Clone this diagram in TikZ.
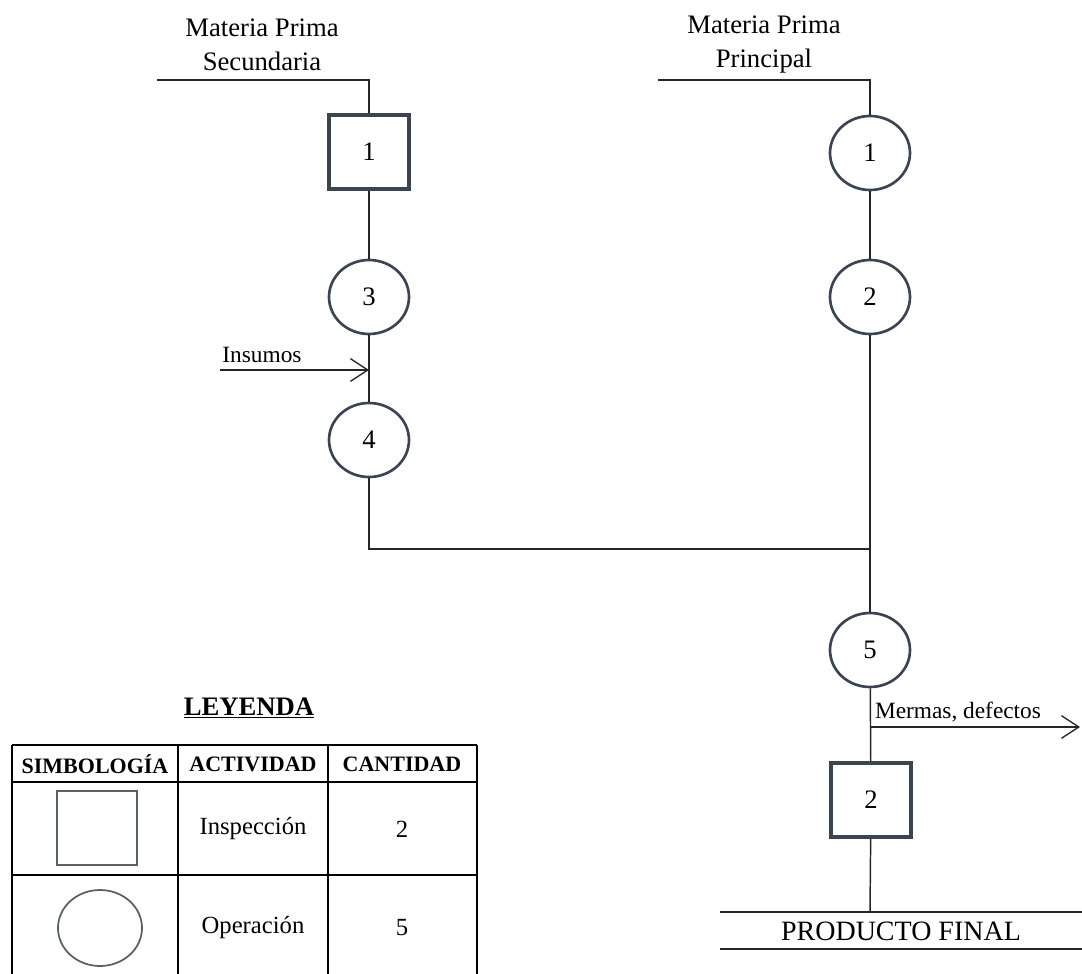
\documentclass[tikz,border=0pt]{standalone}
\usepackage{fontspec}
\setmainfont{Liberation Serif}
\usetikzlibrary{shapes.geometric,arrows.meta}
\definecolor{shapeline}{HTML}{3A4452}
\definecolor{legendline}{HTML}{5A5F66}
\begin{document}
\begin{tikzpicture}[x=0.75pt,y=-0.75pt,
  conn/.style={line width=1.1pt,draw=black!85},
  opnode/.style={ellipse,draw=shapeline,line width=2pt,minimum width=60pt,minimum height=55.5pt,inner sep=0pt,font=\fontsize{20}{24}\selectfont},
  inspnode/.style={rectangle,draw=shapeline,line width=2.6pt,minimum width=60pt,minimum height=55.5pt,inner sep=0pt,font=\fontsize{20}{24}\selectfont},
  bigtext/.style={font=\fontsize{20}{25.5}\selectfont,align=center,inner sep=0pt},
  smalltext/.style={font=\fontsize{17.5}{21}\selectfont,inner sep=0pt},
  flowarrow/.style={conn,-{Straight Barb[length=13pt,width=17pt,line width=1pt]}},
  tabline/.style={line width=1.4pt,draw=black},
  headtext/.style={font=\fontsize{16.5}{20}\selectfont\bfseries,inner sep=0pt},
  celltext/.style={font=\fontsize{18.5}{22}\selectfont,inner sep=0pt}]
\useasboundingbox (0,0) rectangle (1082,974);
\clip (0,0) rectangle (1082,974);

% input labels
\node[bigtext] (lblSec) at (262,45) {Materia Prima\\Secundaria};
\node[bigtext] (lblPri) at (764,45) {Materia Prima\\Principal};

% secondary raw material branch
\coordinate (secIn) at (157,80);
\node[inspnode] (i1) at (369,152) {1};
\node[opnode] (o3) at (369,297) {3};
\node[opnode] (o4) at (369,440) {4};
\coordinate (insIn) at (220,370);
\coordinate (insTip) at (369,370);
\coordinate (joinPt) at (870,549);

% main raw material branch
\coordinate (priIn) at (658,80);
\node[opnode] (o1) at (870,153) {1};
\node[opnode] (o2) at (870,297) {2};
\node[opnode] (o5) at (870,650) {5};
\node[inspnode] (i2) at (871,800) {2};
\coordinate (merOut) at (870,727);
\coordinate (merTip) at (1080,727);
\coordinate (pfTop) at (870,912);

% connectors
\draw[conn] (secIn) -| (i1);
\draw[conn] (i1) -- (o3);
\draw[conn] (o3) -- (o4);
\draw[conn] (o4) |- (joinPt);
\draw[conn] (priIn) -| (o1);
\draw[conn] (o1) -- (o2);
\draw[conn] (o2) -- (o5);
\draw[conn] (o5) -- (i2);
\draw[conn] (i2) -- (pfTop);
\draw[flowarrow] (insIn) -- (insTip);
\draw[flowarrow] (merOut) -- (merTip);
\node[smalltext] (lblIns) at (262,355) {Insumos};
\node[smalltext] (lblMer) at (958,712) {Mermas, defectos};

% final product
\coordinate (pfL1) at (720,912);
\coordinate (pfR1) at (1082,912);
\coordinate (pfL2) at (720,949);
\coordinate (pfR2) at (1082,949);
\draw[conn] (pfL1) -- (pfR1);
\draw[conn] (pfL2) -- (pfR2);
\node[font=\fontsize{21}{25}\selectfont,inner sep=0pt] (lblPF) at (901,931) {PRODUCTO FINAL};

% legend
\node[font=\fontsize{20}{24}\selectfont\bfseries,inner sep=0pt] (legTitle) at (249,708) {\underline{LEYENDA}};
\draw[tabline] (12,745) -- (477,745);
\draw[tabline] (12,782) -- (477,782);
\draw[tabline] (12,875) -- (477,875);
\foreach \xx in {12,178,328,477} \draw[tabline] (\xx,745) -- (\xx,990);
\node[headtext] (hSym) at (95,764) {SIMBOLOGÍA};
\node[headtext] (hAct) at (253,764) {ACTIVIDAD};
\node[headtext] (hCan) at (402,764) {CANTIDAD};
\node[rectangle,draw=legendline,line width=1.3pt,minimum width=60pt,minimum height=56pt,inner sep=0pt] (symInsp) at (97,828) {};
\node[ellipse,draw=legendline,line width=1.3pt,minimum width=63pt,minimum height=57pt,inner sep=0pt] (symOp) at (100,928) {};
\node[celltext] (actInsp) at (253,829) {Inspección};
\node[celltext] (actOp) at (253,928) {Operación};
\node[celltext] (canInsp) at (402,829) {2};
\node[celltext] (canOp) at (402,928) {5};
\end{tikzpicture}
\end{document}
